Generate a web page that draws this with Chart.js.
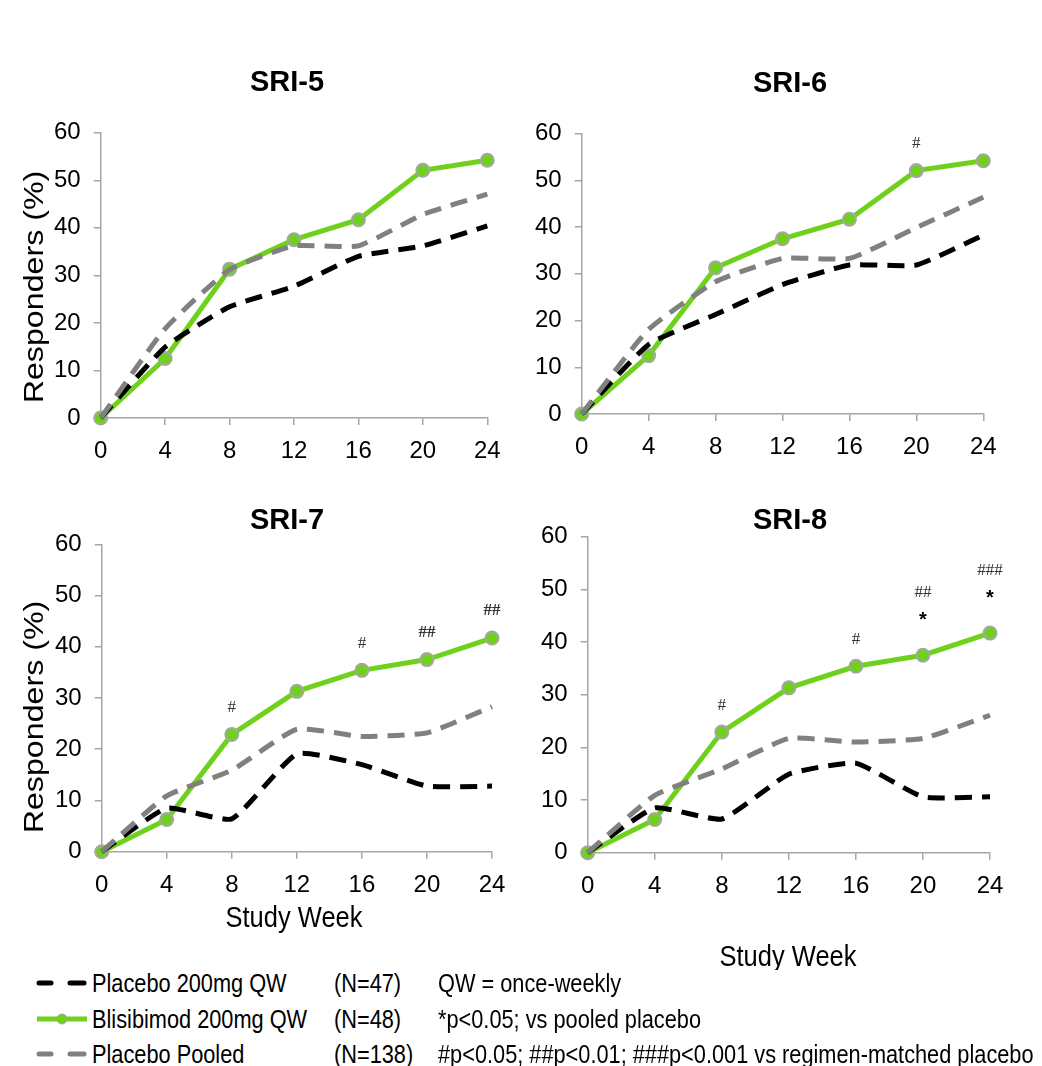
<!DOCTYPE html>
<html>
<head>
<meta charset="utf-8">
<script src="https://cdn.jsdelivr.net/npm/chart.js@4.4.1/dist/chart.umd.min.js"></script>
<style>
  html, body { margin: 0; background: #fff; }
  body { width: 1042px; height: 1066px; position: relative; overflow: hidden; font-family: "Liberation Sans", Arial, sans-serif; }
  .panel { position: absolute; }
  .t { position: absolute; white-space: nowrap; font-size: 25px; line-height: 36px; height: 36px; transform-origin: 0 50%; color: #000; }
  svg { position: absolute; }
</style>
</head>
<body>
<div class="panel" style="left:0;top:60px"><canvas id="c1" width="521" height="420"></canvas></div>
<div class="panel" style="left:521px;top:60px"><canvas id="c2" width="521" height="420"></canvas></div>
<div class="panel" style="left:0;top:480px"><canvas id="c3" width="521" height="470"></canvas></div>
<div class="panel" style="left:521px;top:480px"><canvas id="c4" width="521" height="490"></canvas></div>
<div id="legend"></div>

<script>
// study weeks and y ticks
const weeks = [0, 4, 8, 12, 16, 20, 24];
const yMax = 60;

// responders (%) per panel
const sri5Placebo = [0, 14.9, 23.4, 27.7, 34.0, 36.2, 40.4];
const sri5Blisi   = [0, 12.5, 31.3, 37.5, 41.7, 52.1, 54.2];
const sri5Pooled  = [0, 18.8, 31.2, 36.2, 36.2, 42.8, 47.1];

const sri6Placebo = [0, 14.9, 21.3, 27.7, 31.9, 31.9, 38.3];
const sri6Blisi   = [0, 12.5, 31.3, 37.5, 41.7, 52.1, 54.2];
const sri6Pooled  = [0, 18.1, 28.3, 33.3, 33.3, 39.9, 46.4];

const sri7Placebo = [0, 8.5, 6.4, 19.1, 17.0, 12.8, 12.8];
const sri7Blisi   = [0, 6.3, 22.9, 31.3, 35.4, 37.5, 41.7];
const sri7Pooled  = [0, 10.9, 15.9, 23.9, 22.5, 23.2, 28.3];

const sri8Placebo = [0, 8.5, 6.4, 14.9, 17.0, 10.6, 10.6];
const sri8Blisi   = [0, 6.3, 22.9, 31.3, 35.4, 37.5, 41.7];
const sri8Pooled  = [0, 10.9, 15.9, 21.7, 21.0, 21.7, 26.1];

// significance marks above blisibimod points (bottom line first)
const sri5Marks = [];
const sri6Marks = [[20, ['#']]];
const sri7Marks = [[8, ['#']], [16, ['#']], [20, ['##']], [24, ['##']]];
const sri8Marks = [[8, ['#']], [16, ['#']], [20, ['*', '##']], [24, ['*', '###']]];

const seriesNames = ['Placebo 200mg QW', 'Blisibimod 200mg QW', 'Placebo Pooled'];
const seriesN = ['(N=47)', '(N=48)', '(N=138)'];
const notes = ['QW = once-weekly', '*p<0.05; vs pooled placebo', '#p<0.05; ##p<0.01; ###p<0.001 vs regimen-matched placebo'];

const GREEN = '#6fd11c';
const AXIS = '#a6a6a6';

// is a narrow sans installed?
const probe = document.createElement('canvas').getContext('2d');
probe.font = '40px "Liberation Sans Narrow", monospace';
const wa = probe.measureText('Placebo 200mg QW').width;
probe.font = '40px monospace';
const wb = probe.measureText('Placebo 200mg QW').width;
const hasNarrow = Math.abs(wa - wb) > 0.5;
const NARROW = hasNarrow ? '"Liberation Sans Narrow"' : '"Liberation Sans"';
const NX = hasNarrow ? 1 : 0.87;   // horizontal squeeze when no narrow face

function txt(ctx, s, x, y, size, o) {
  o = o || {};
  ctx.save();
  ctx.translate(x, y);
  if (o.rot) ctx.rotate(o.rot);
  ctx.scale(o.sx || 1, 1);
  ctx.font = (o.bold ? 'bold ' : '') + size + 'px ' + (o.family || '"Liberation Sans"');
  ctx.fillStyle = o.color || '#000';
  ctx.textAlign = 'center';
  ctx.textBaseline = 'middle';
  ctx.fillText(s, 0, 0);
  ctx.restore();
}

const panelText = {
  id: 'panelText',
  afterDatasetsDraw(chart, args, o) {
    const ctx = chart.ctx;
    const ox = o.off[0], oy = o.off[1];
    txt(ctx, o.title, o.titleAt[0] - ox, o.titleAt[1] - oy, 29, {bold: true});
    if (o.yTitleAt) {
      txt(ctx, 'Responders (%)', o.yTitleAt[0] - ox, o.yTitleAt[1] - oy, 28, {rot: -Math.PI / 2, sx: 1.15});
    }
    if (o.xTitleAt) {
      txt(ctx, 'Study Week', o.xTitleAt[0] - ox, o.xTitleAt[1] - oy, 30, {family: NARROW, sx: hasNarrow ? 1 : 0.85});
    }
    const xs = chart.scales.x, ys = chart.scales.y;
    o.marks.forEach(([wk, lines]) => {
      const px = xs.getPixelForValue(wk);
      const py = ys.getPixelForValue(o.blisi[weeks.indexOf(wk)]);
      lines.forEach((s, i) => {
        const y = py - 27 - 36 * i;
        if (s === '*') txt(ctx, s, px, y - 8, 20, {bold: true});
        else txt(ctx, s, px, y, 17, {family: '"Liberation Serif"', bold: o.bold.includes(wk), color: '#333'});
      });
    });
  }
};

const pts = arr => arr.map((v, i) => ({x: weeks[i], y: v}));

function makeChart(id, p) {
  const cv = document.getElementById(id);
  const W = cv.width, H = cv.height;
  const tickSize = hasNarrow ? 26 : 24;
  const lh = tickSize * 1.2;
  const grid = {drawOnChartArea: false, drawTicks: true, tickLength: 7, color: AXIS, lineWidth: 1.5};
  const border = {display: true, color: AXIS, width: 1.5};
  return new Chart(cv, {
    type: 'line',
    data: {
      datasets: [
        {label: seriesNames[0], data: pts(p.placebo), borderColor: '#000', borderWidth: 5,
         borderDash: [17, 10], pointRadius: 0, tension: 0.15, order: 1, clip: false},
        {label: seriesNames[1], data: pts(p.blisi), borderColor: GREEN, backgroundColor: GREEN, borderWidth: 5,
         pointRadius: 6.5, pointBorderColor: AXIS, pointBorderWidth: 2, pointBackgroundColor: GREEN,
         tension: 0, order: 2, clip: false},
        {label: seriesNames[2], data: pts(p.pooled), borderColor: '#808080', borderWidth: 5,
         borderDash: [17, 10], pointRadius: 0, tension: 0.15, order: 0, clip: false}
      ]
    },
    options: {
      responsive: false,
      animation: false,
      events: [],
      layout: {autoPadding: false, padding: {top: p.area.top, right: W - p.area.right, left: 0, bottom: 0}},
      plugins: {
        legend: {display: false},
        tooltip: {enabled: false},
        panelText: {title: p.title, titleAt: p.titleAt, yTitleAt: p.yTitleAt, xTitleAt: p.xTitleAt,
                    off: p.off, marks: p.marks, bold: p.bold || [], blisi: p.blisi}
      },
      scales: {
        x: {
          type: 'linear', min: 0, max: 24,
          afterFit(s) { s.height = H - p.area.bottom; },
          ticks: {stepSize: 4, color: '#000', font: {family: NARROW, size: tickSize}, padding: 33.5 - 7 - lh / 2, maxRotation: 0},
          grid: grid, border: border
        },
        y: {
          min: 0, max: yMax,
          afterFit(s) { s.width = p.area.left; },
          ticks: {stepSize: 10, color: '#000', font: {family: NARROW, size: tickSize}, padding: 13},
          grid: grid, border: border
        }
      }
    },
    plugins: [panelText]
  });
}

makeChart('c1', {placebo: sri5Placebo, blisi: sri5Blisi, pooled: sri5Pooled, marks: sri5Marks,
  title: 'SRI-5', off: [0, 60], titleAt: [287, 83], yTitleAt: [35, 287],
  area: {left: 100.7, top: 72.7, right: 487.3, bottom: 358}});
makeChart('c2', {placebo: sri6Placebo, blisi: sri6Blisi, pooled: sri6Pooled, marks: sri6Marks,
  title: 'SRI-6', off: [521, 60], titleAt: [790, 84],
  area: {left: 60.7, top: 73.7, right: 462.3, bottom: 354}});
makeChart('c3', {placebo: sri7Placebo, blisi: sri7Blisi, pooled: sri7Pooled, marks: sri7Marks, bold: [20, 24],
  title: 'SRI-7', off: [0, 480], titleAt: [287, 521], yTitleAt: [35, 717], xTitleAt: [294, 919],
  area: {left: 101.7, top: 64.3, right: 492, bottom: 371.7}});
makeChart('c4', {placebo: sri8Placebo, blisi: sri8Blisi, pooled: sri8Pooled, marks: sri8Marks,
  title: 'SRI-8', off: [521, 480], titleAt: [790, 521], xTitleAt: [788, 958],
  area: {left: 66.7, top: 56.7, right: 469, bottom: 372.7}});

// legend below the panels
const legend = document.getElementById('legend');
const rowY = [983, 1019, 1054];
const sampleColor = ['#000', GREEN, '#808080'];
rowY.forEach((cy, i) => {
  const svgNS = 'http://www.w3.org/2000/svg';
  const svg = document.createElementNS(svgNS, 'svg');
  svg.setAttribute('width', 60); svg.setAttribute('height', 20);
  svg.style.left = '32px'; svg.style.top = (cy - 10) + 'px';
  if (i === 1) {
    svg.innerHTML = '<line x1="5" y1="10" x2="55" y2="10" stroke="' + GREEN + '" stroke-width="5"/>' +
      '<circle cx="30" cy="10" r="5" fill="' + GREEN + '" stroke="' + AXIS + '" stroke-width="1"/>';
  } else {
    svg.innerHTML = '<line x1="7" y1="10" x2="19" y2="10" stroke="' + sampleColor[i] + '" stroke-width="5" stroke-linecap="round"/>' +
      '<line x1="38" y1="10" x2="52" y2="10" stroke="' + sampleColor[i] + '" stroke-width="5" stroke-linecap="round"/>';
  }
  legend.appendChild(svg);
  [[seriesNames[i], 92], [seriesN[i], 334], [notes[i], 438]].forEach(([s, x]) => {
    const d = document.createElement('div');
    d.className = 't';
    d.textContent = s;
    d.style.left = x + 'px';
    d.style.top = (cy - 18) + 'px';
    d.style.fontFamily = NARROW + ', sans-serif';
    if (!hasNarrow) d.style.transform = 'scaleX(' + NX + ')';
    legend.appendChild(d);
  });
});
</script>
</body>
</html>
